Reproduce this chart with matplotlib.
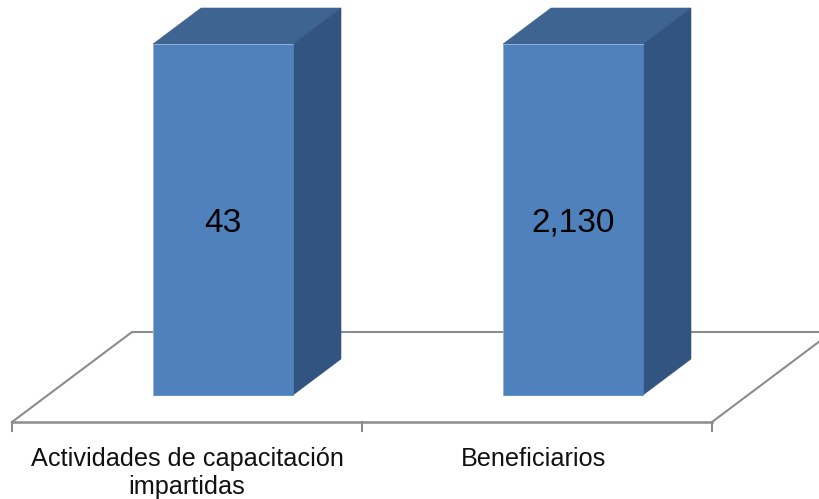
import matplotlib
matplotlib.use("Agg")
import matplotlib.pyplot as plt
from matplotlib.patches import Polygon

categories = ["Actividades de capacitación\nimpartidas", "Beneficiarios"]
value_labels = ["43", "2,130"]
heights = [1.0, 1.0]  # each series fills the full axis, whatever its value

FRONT = "#4F81BD"
TOP = "#3E6491"
SIDE = "#325480"
EDGE = "#A9C0DC"
FLOOR = "#8C8C8C"

plt.rcParams["font.family"] = ["Liberation Sans", "DejaVu Sans"]

W, H = 819, 499
px_x, px_y = 350.0, 351.0  # pixels per category / per unit of height

fig = plt.figure(figsize=(W / 100, H / 100), dpi=100)
ax = fig.add_axes([0, 0, 1, 1])
ax.set_xlim(-223 / px_x, (W - 223) / px_x)
ax.set_ylim(-(H - 395) / px_y, 395 / px_y)
ax.axis("off")

# oblique projection of the depth axis
bar_w = 0.4
dx, dy = 48 / px_x, 36 / px_y
gap_x, gap_y = 36 / px_x, 27 / px_y

# floor
x0, y0 = -0.5 - gap_x, -gap_y
x1 = x0 + len(categories)
depth_x, depth_y = 120 / px_x, 90 / px_y
ax.plot([x0, x0 + depth_x, x1 + depth_x, x1],
        [y0, y0 + depth_y, y0 + depth_y, y0], color=FLOOR, lw=1.5, zorder=1)
ax.plot([x0, x1], [y0, y0], color=FLOOR, lw=1.8, zorder=1)
for i in range(len(categories) + 1):
    ax.plot([x0 + i, x0 + i], [y0, y0 - 9 / px_y], color=FLOOR, lw=1.5, zorder=1)

# bars
bars = ax.bar(range(len(categories)), heights, width=bar_w, color=FRONT,
              edgecolor=FRONT, linewidth=0.5, zorder=3)
for rect in bars:
    l, r = rect.get_x(), rect.get_x() + rect.get_width()
    t = rect.get_height()
    ax.add_patch(Polygon([(l, t), (r, t), (r + dx, t + dy), (l + dx, t + dy)],
                         facecolor=TOP, edgecolor=TOP, linewidth=0.4, zorder=2))
    ax.add_patch(Polygon([(r, 0), (r + dx, dy), (r + dx, t + dy), (r, t)],
                         facecolor=SIDE, edgecolor=SIDE, linewidth=0.4, zorder=2))
    ax.plot([l, l, r], [0, t, t], color=EDGE, lw=0.5, zorder=3.5)

for i, (lab, h) in enumerate(zip(value_labels, heights)):
    ax.text(i, h * 0.49, lab, ha="center", va="center", fontsize=24, color="black", zorder=4)

# labels sit slightly closer together than the category spacing
for i, cat in enumerate(categories):
    ax.text(i * 346 / px_x - gap_x, y0 - 25 / px_y, cat, ha="center", va="top", fontsize=18.2,
            color="#111111", linespacing=1.22)

fig.savefig("out.png", dpi=100)
plt.close(fig)
